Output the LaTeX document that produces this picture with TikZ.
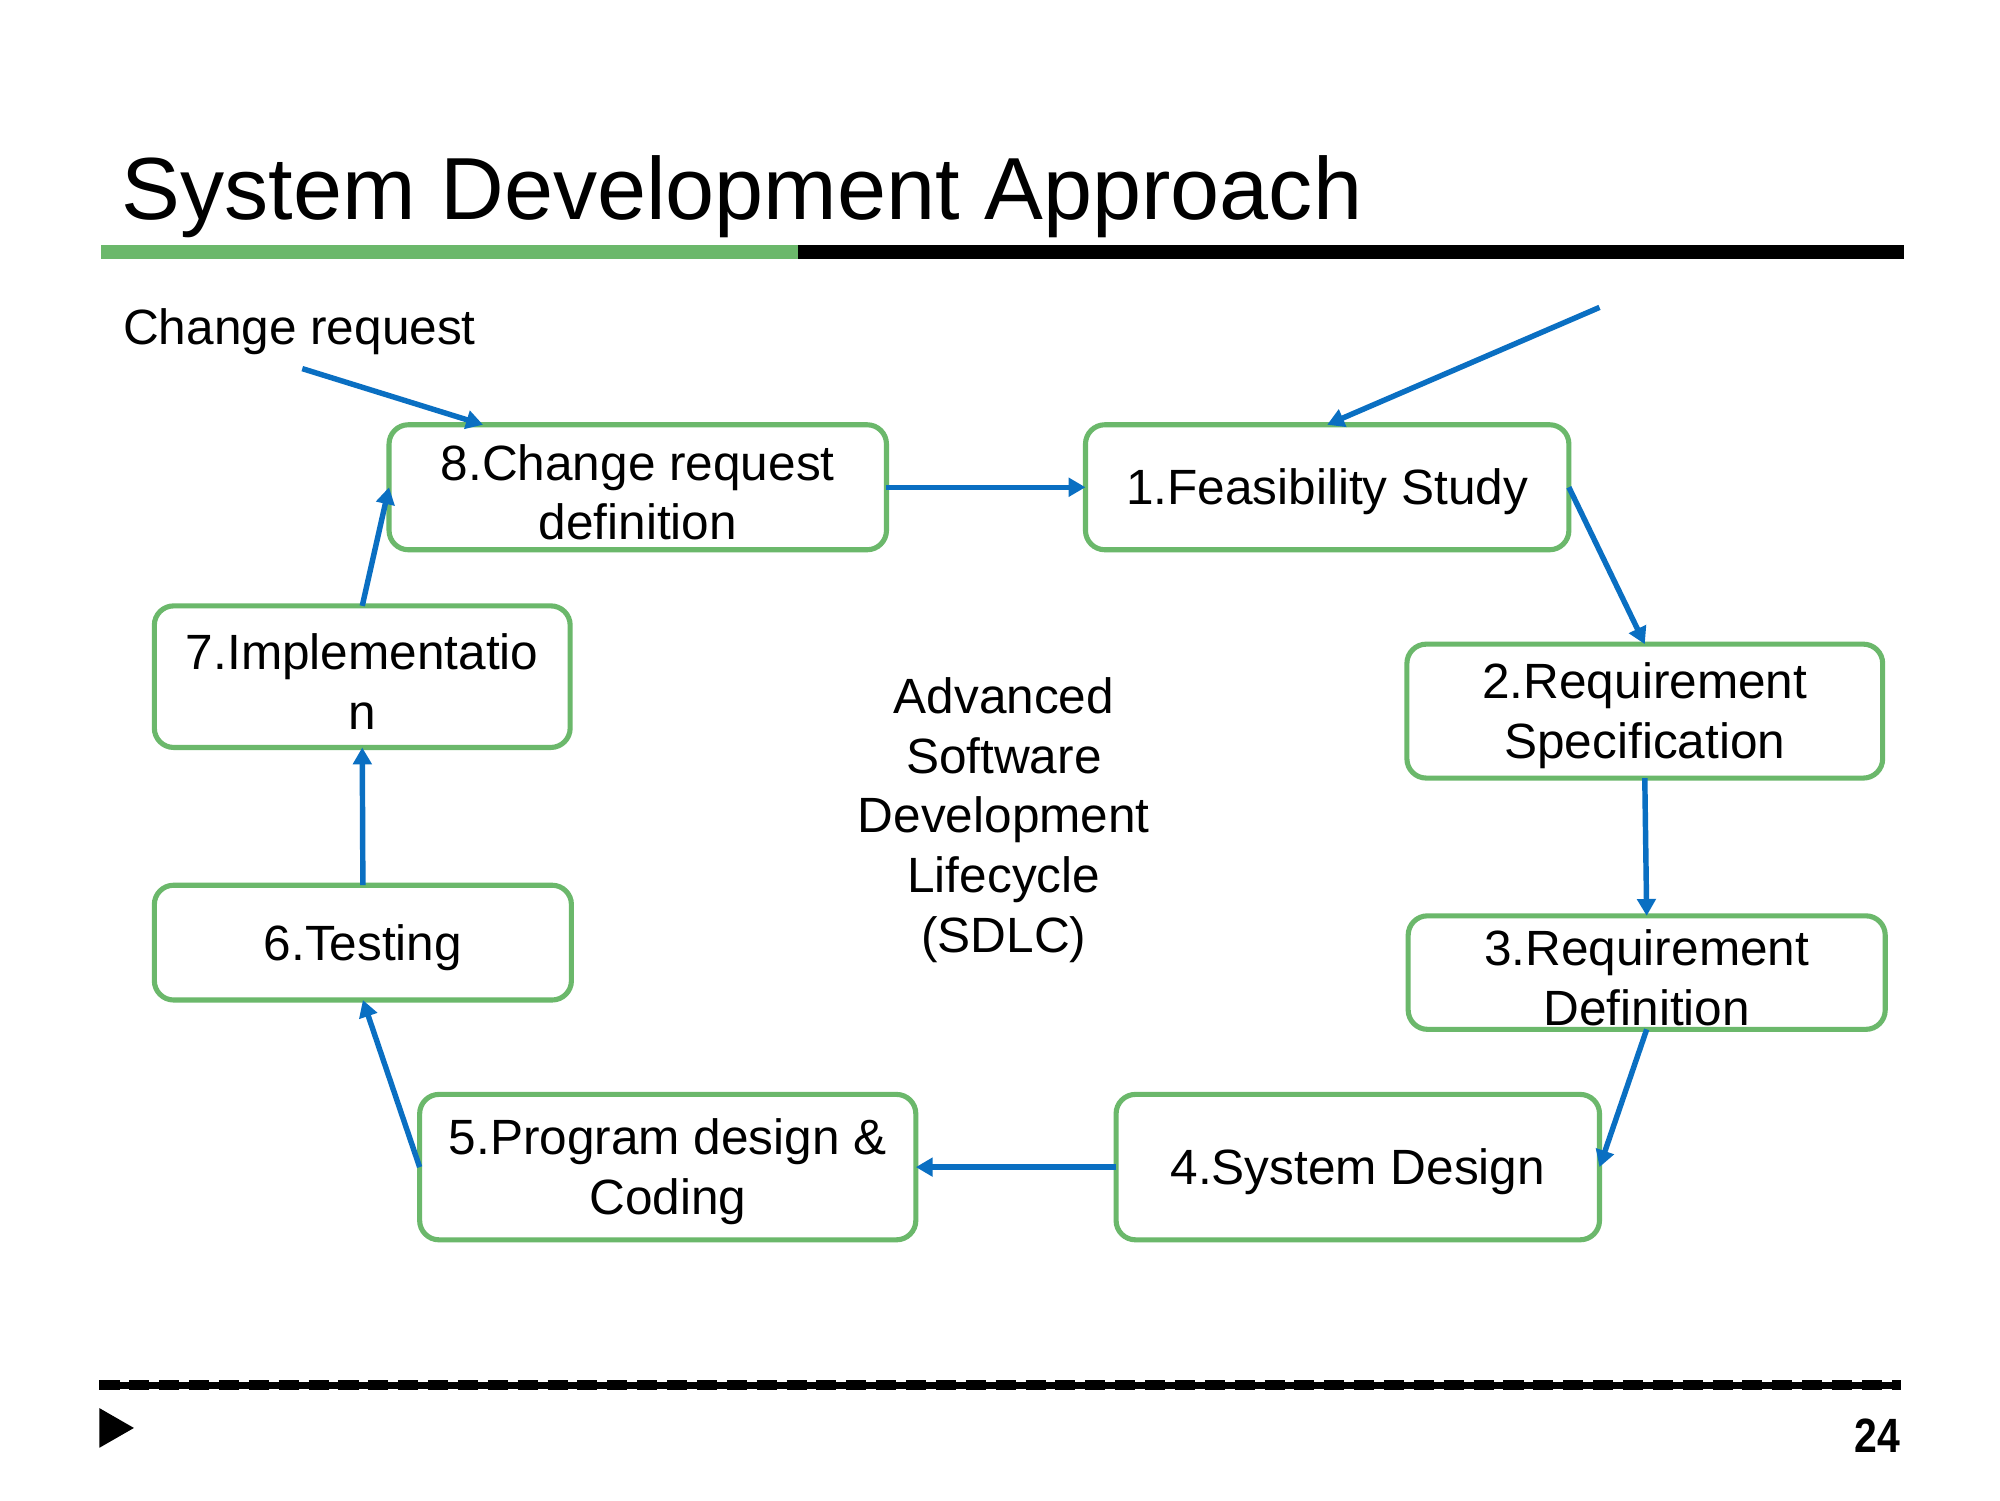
\documentclass[tikz,border=0pt]{standalone}
\usepackage{fontspec}
\usepackage{graphicx}
\setmainfont{Liberation Sans}
\usetikzlibrary{arrows.meta}

\definecolor{boxgreen}{HTML}{6BB86B}
\definecolor{flowblue}{HTML}{0A6FC2}

\newdimen\dpx
\dpx=0.01276cm

\tikzset{
  stagebox/.style={draw=boxgreen, line width=1.45pt, rounded corners=5.5pt,
    fill=white, inner sep=0pt, outer sep=0pt},
  stagetext/.style={align=center, inner sep=0pt, yshift=-1.4pt,
    font=\fontsize{14.1}{17}\selectfont},
  flow/.style={draw=flowblue, line width=1.55pt,
    -{Triangle[length=4.8pt,width=5.2pt]}},
  plain/.style={font=\fontsize{14.1}{17}\selectfont, inner sep=0pt}
}

\begin{document}
\begin{tikzpicture}[x=0.01276cm, y=-0.01276cm]
\useasboundingbox (0,0) rectangle (1568,1176);
\fill[white] (0,0) rectangle (1568,1176);

% heading and its rule
\node[anchor=base west, inner sep=0pt, font=\fontsize{25.1}{30}\selectfont] (title) at (95,172) {System Development Approach};
\fill[boxgreen] (79,192) rectangle (626,203);
\fill[black] (626,192) rectangle (1493,203);

% the eight stages (frames)
\node[stagebox, minimum width=390\dpx, minimum height=98\dpx] (n8) at (500,382) {};
\node[stagebox, minimum width=379\dpx, minimum height=98\dpx] (n1) at (1040.5,382) {};
\node[stagebox, minimum width=373\dpx, minimum height=105\dpx] (n2) at (1289.5,557.5) {};
\node[stagebox, minimum width=374\dpx, minimum height=89\dpx] (n3) at (1291,762.5) {};
\node[stagebox, minimum width=379\dpx, minimum height=114\dpx] (n4) at (1064.5,915) {};
\node[stagebox, minimum width=389\dpx, minimum height=114\dpx] (n5) at (523.5,915) {};
\node[stagebox, minimum width=327\dpx, minimum height=90\dpx] (n6) at (284.5,739) {};
\node[stagebox, minimum width=326\dpx, minimum height=111\dpx] (n7) at (284,530.5) {};

% stage captions
\node[stagetext] (t8) at (n8.center) {8.Change request\\definition};
\node[stagetext] (t1) at (n1.center) {1.Feasibility Study};
\node[stagetext] (t2) at (n2.center) {2.Requirement\\Specification};
\node[stagetext] (t3) at (n3.center) {3.Requirement\\Definition};
\node[stagetext] (t4) at (n4.center) {4.System Design};
\node[stagetext] (t5) at (n5.center) {5.Program design \&\\Coding};
\node[stagetext] (t6) at (n6.center) {6.Testing};
\node[stagetext] (t7) at (n7.center) {7.Implementatio\\n};

% labels
\node[plain, anchor=base west] (cr) at (96,270) {Change request};
\node[plain, align=center] (sdlc) at (787,643) {Advanced\\Software\\Development\\Lifecycle\\(SDLC)};

% incoming arrows
\coordinate (crstart) at (237,289);
\coordinate (newstart) at (1254,241);
\draw[flow] (crstart) -- (n8.158);
\draw[flow] (newstart) -- (n1.north);

% the cycle
\draw[flow] (n8.east) -- (n1.west);
\draw[flow] (n1.east) -- (n2.north);
\draw[flow] (n2.south) -- (n3.north);
\draw[flow] (n3.south) -- (n4.east);
\draw[flow] (n4.west) -- (n5.east);
\draw[flow] (n5.west) -- (n6.south);
\draw[flow] (n6.north) -- (n7.south);
\draw[flow] (n7.north) -- (n8.west);

% footer
\draw[line width=2pt] (78,1086) -- (1490,1086);
\draw[line width=2.9pt, dash pattern=on 5.7pt off 2.8pt] (78,1086) -- (1490,1086);
\fill[black] (78,1104) -- (105,1119.5) -- (78,1135) -- cycle;
\node[anchor=base east, inner sep=0pt, font=\bfseries\fontsize{13.7}{16}\selectfont] (pagenum) at (1490,1139) {\scalebox{0.85}[1]{24}};
\end{tikzpicture}
\end{document}
